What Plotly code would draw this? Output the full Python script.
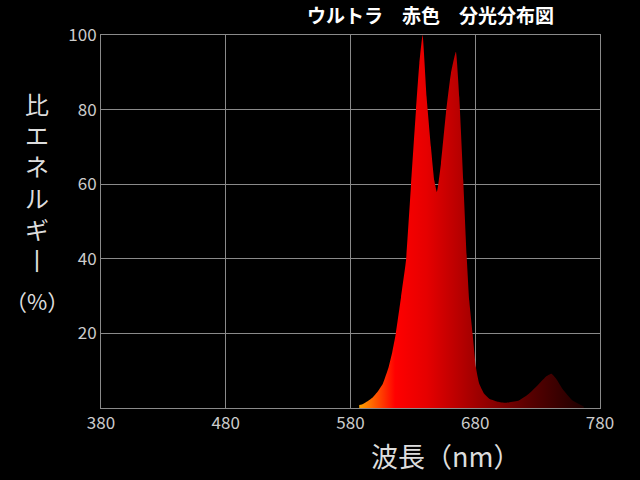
import plotly.graph_objects as go

wavelength = [587, 590, 594, 598, 602, 606, 610.6, 613.5, 616.3, 620.5, 624.5, 628.5, 632.5,
              635.2, 637.8, 641, 644.5, 647.2, 649.3, 652.5, 656.5, 660.5, 664.5, 667.2,
              670.4, 673.3, 675.2, 677.9, 680.5, 683.2, 687.2, 691.2, 697.9, 704.5, 715,
              723, 731.2, 737, 741.1, 745, 750, 758, 767]
energy = [0.8, 1.1, 1.9, 2.9, 4.5, 6.6, 11, 15, 19.9, 29.7, 39.6, 59.7, 79.9,
          92.4, 100, 83.4, 70, 61, 57.9, 65.5, 79, 89.7, 95.5, 83.4,
          61, 39.6, 28.8, 19.9, 11, 6.5, 3.8, 2.5, 1.7, 1.4, 2.0,
          3.8, 6.5, 8.5, 9.2, 7.8, 5.1, 2.0, 0.4]

x_ticks = [380, 480, 580, 680, 780]
y_ticks = [20, 40, 60, 80, 100]

title_text = "ウルトラ\u3000赤色\u3000分光分布図"
y_title_chars = ["比", "エ", "ネ", "ル", "ギ", "丨"]
y_unit = "（%）"
x_title = "波長（nm）"

font_family = "Noto Sans CJK JP, Noto Sans, sans-serif"

fig = go.Figure()
fig.add_trace(go.Scatter(
    x=wavelength, y=energy, mode="lines",
    line=dict(width=0, shape="spline", smoothing=0.4),
    fill="tozeroy",
    fillgradient=dict(
        type="horizontal", start=587, stop=767,
        colorscale=[[0.0, "#ffa400"], [0.07, "#ff5a00"], [0.16, "#ff0000"],
                    [0.30, "#e60000"], [0.52, "#a00000"], [0.75, "#5a0000"],
                    [1.0, "#1e0000"]],
    ),
    hoverinfo="skip", showlegend=False,
))

fig.update_layout(
    width=640, height=480,
    paper_bgcolor="black", plot_bgcolor="black",
    margin=dict(l=101, r=40, t=35, b=72),
    font=dict(family=font_family, color="#cccccc"),
    xaxis=dict(range=[380, 780], tickvals=x_ticks, ticktext=[str(v) for v in x_ticks],
               showgrid=True, gridcolor="#8a8a8a", gridwidth=1, zeroline=False,
               showline=True, linecolor="#8a8a8a", mirror=True,
               tickfont=dict(size=17, color="#cccccc"), ticks=""),
    yaxis=dict(range=[0, 100], tickvals=y_ticks, ticktext=[str(v) for v in y_ticks],
               showgrid=True, gridcolor="#8a8a8a", gridwidth=1, zeroline=False,
               showline=True, linecolor="#8a8a8a", mirror=True,
               tickfont=dict(size=17, color="#cccccc"), ticks=""),
)

fig.add_annotation(text="<b>" + title_text + "</b>", xref="paper", yref="paper",
                   x=(430 - 101) / 499, y=1 + (35 - 15) / 373, showarrow=False,
                   font=dict(size=19, color="white", family=font_family),
                   xanchor="center", yanchor="middle")

fig.add_annotation(text="<br>".join(y_title_chars), xref="paper", yref="paper",
                   x=(37 - 101) / 499, y=(408 - 181) / 373, showarrow=False,
                   font=dict(size=24, color="#dddddd", family=font_family),
                   align="center", xanchor="center", yanchor="middle")

fig.add_annotation(text=y_unit, xref="paper", yref="paper",
                   x=(37 - 101) / 499, y=(408 - 300) / 373, showarrow=False,
                   font=dict(size=22, color="#dddddd", family=font_family),
                   xanchor="center", yanchor="middle")

fig.add_annotation(text=x_title, xref="paper", yref="paper",
                   x=(445 - 101) / 499, y=-(455 - 408) / 373, showarrow=False,
                   font=dict(size=27, color="#dddddd", family=font_family),
                   xanchor="center", yanchor="middle")

fig.write_html("out.html", config={"displayModeBar": False},
               post_script="document.body.style.margin='0';document.body.style.background='black';")
